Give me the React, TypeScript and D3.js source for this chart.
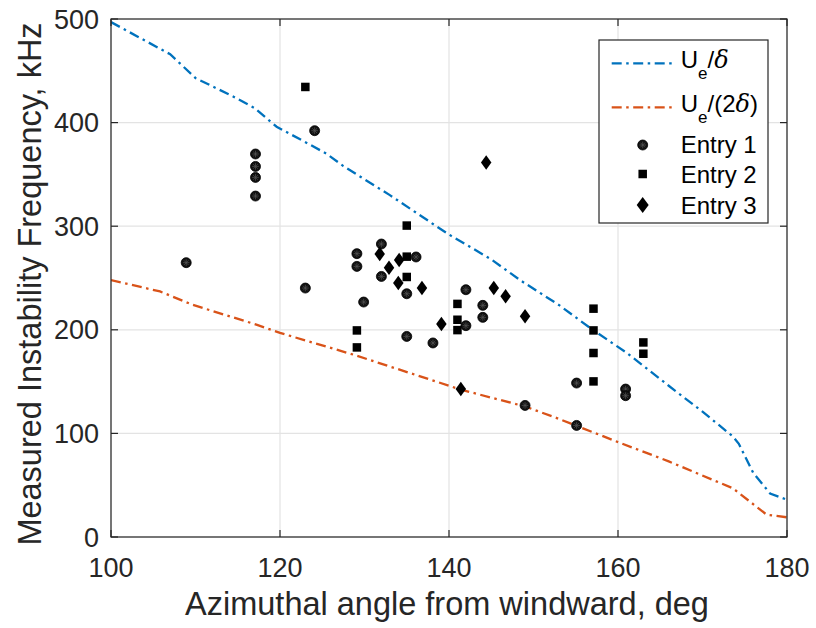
import React from "react";
import * as d3 from "d3";

const blueX = [100, 107, 110, 114.5, 117, 119.6, 122.8, 125.5, 127.5, 133, 138.5, 140, 145, 148.4, 153, 157, 161, 166, 170, 173.6, 174.3, 176, 178, 180];
const blueY = [497, 466, 443, 425, 414, 396, 382, 370, 358, 330, 300, 292, 268, 248, 224, 200, 178, 146, 121, 97, 90, 62, 42, 36];
const orangeX = [100, 105.8, 109.7, 117.2, 120, 128.7, 141.5, 149, 152.7, 160.2, 166, 173.6, 177.6, 180];
const orangeY = [248, 237, 224, 205, 197, 176, 142, 126, 115, 91, 73, 47, 21.5, 19];

const entry1X = [108.9, 117.1, 117.1, 117.1, 117.1, 123.0, 124.1, 129.1, 129.1, 129.9, 132.0, 132.0, 136.1, 135.0, 135.0, 138.1, 142.0, 142.0, 144.0, 144.0, 149.0, 155.1, 155.1, 160.9, 160.9];
const entry1Y = [264.8, 369.7, 357.7, 347.1, 329.1, 240.3, 392.2, 273.5, 261.2, 226.8, 282.8, 251.5, 270.3, 234.8, 193.6, 187.3, 238.7, 204.0, 223.6, 212.0, 127.0, 148.6, 107.7, 142.8, 136.4];
const entry2X = [123.0, 135.0, 135.0, 135.0, 129.1, 129.1, 141.0, 141.0, 141.0, 157.1, 157.1, 157.1, 157.1, 163.0, 163.0];
const entry2Y = [434.4, 300.6, 270.6, 251.0, 199.4, 183.0, 225.0, 209.7, 199.7, 220.4, 199.4, 177.6, 150.2, 187.8, 176.9];
const entry3X = [144.4, 131.8, 132.9, 134.1, 134.0, 136.8, 139.1, 141.4, 145.3, 146.7, 149.0];
const entry3Y = [361.6, 273.2, 260.0, 267.4, 245.2, 240.3, 205.6, 142.8, 240.3, 232.3, 213.0];

const xTicks = [100, 120, 140, 160, 180];
const yTicks = [0, 100, 200, 300, 400, 500];

const W = 816, H = 628;
const L = 111, R = 787, T = 19, B = 537;
const FONT = "'Liberation Sans', Arial, Helvetica, sans-serif";
const BLUE = "#0072BD";
const ORANGE = "#D95319";
const DASH = "10 4.5 2.5 4.5";

function Circle({ cx, cy }: { cx: number; cy: number }) {
  const r = 5;
  const a = 3.3;
  const d = a * 0.707;
  return (
    <g>
      <circle cx={cx} cy={cy} r={r} fill="#111" stroke="#000" strokeWidth={0.8} />
      <g stroke="#555" strokeWidth={0.7}>
        <line x1={cx - a} y1={cy} x2={cx + a} y2={cy} />
        <line x1={cx} y1={cy - a} x2={cx} y2={cy + a} />
        <line x1={cx - d} y1={cy - d} x2={cx + d} y2={cy + d} />
        <line x1={cx - d} y1={cy + d} x2={cx + d} y2={cy - d} />
      </g>
    </g>
  );
}

function Square({ cx, cy }: { cx: number; cy: number }) {
  const s = 8.5;
  return <rect x={cx - s / 2} y={cy - s / 2} width={s} height={s} fill="#000" />;
}

function Diamond({ cx, cy, w = 10.5, h = 14.5 }: { cx: number; cy: number; w?: number; h?: number }) {
  const p = `M${cx},${cy - h / 2}L${cx + w / 2},${cy}L${cx},${cy + h / 2}L${cx - w / 2},${cy}Z`;
  return <path d={p} fill="#000" />;
}

export default function App() {
  const x = d3.scaleLinear().domain([100, 180]).range([L, R]);
  const y = d3.scaleLinear().domain([0, 500]).range([B, T]);
  const line = d3
    .line<[number, number]>()
    .x((d) => x(d[0]))
    .y((d) => y(d[1]));
  const blue = line(blueX.map((v, i) => [v, blueY[i]] as [number, number])) || "";
  const orange = line(orangeX.map((v, i) => [v, orangeY[i]] as [number, number])) || "";

  const lx = 599, ly = 40, lw = 169, lh = 183;
  return (
    <svg width={W} height={H} style={{ position: "fixed", left: 0, top: 0, background: "#fff" }} fontFamily={FONT}>
      <rect x={0} y={0} width={W} height={H} fill="#fff" />
      {/* grid */}
      <g stroke="#e3e3e3" strokeWidth={1.2}>
        {xTicks.map((t) => (
          <line key={"gx" + t} x1={x(t)} x2={x(t)} y1={T} y2={B} />
        ))}
        {yTicks.map((t) => (
          <line key={"gy" + t} x1={L} x2={R} y1={y(t)} y2={y(t)} />
        ))}
      </g>
      <clipPath id="pc">
        <rect x={L} y={T} width={R - L} height={B - T} />
      </clipPath>
      <g clipPath="url(#pc)" fill="none" strokeWidth={2.3}>
        <path d={blue} stroke={BLUE} strokeDasharray={DASH} />
        <path d={orange} stroke={ORANGE} strokeDasharray={DASH} />
      </g>
      {entry1X.map((v, i) => (
        <Circle key={"e1" + i} cx={x(v)} cy={y(entry1Y[i])} />
      ))}
      {entry2X.map((v, i) => (
        <Square key={"e2" + i} cx={x(v)} cy={y(entry2Y[i])} />
      ))}
      {entry3X.map((v, i) => (
        <Diamond key={"e3" + i} cx={x(v)} cy={y(entry3Y[i])} />
      ))}
      {/* axes box */}
      <rect x={L} y={T} width={R - L} height={B - T} fill="none" stroke="#262626" strokeWidth={1.2} />
      <g stroke="#262626" strokeWidth={1.2}>
        {xTicks.map((t) => (
          <g key={"tx" + t}>
            <line x1={x(t)} x2={x(t)} y1={B} y2={B - 7} />
            <line x1={x(t)} x2={x(t)} y1={T} y2={T + 7} />
          </g>
        ))}
        {yTicks.map((t) => (
          <g key={"ty" + t}>
            <line x1={L} x2={L + 7} y1={y(t)} y2={y(t)} />
            <line x1={R} x2={R - 7} y1={y(t)} y2={y(t)} />
          </g>
        ))}
      </g>
      <g fill="#262626" fontSize={27}>
        {xTicks.map((t) => (
          <text key={"lx" + t} x={x(t)} y={577} textAnchor="middle">
            {t}
          </text>
        ))}
        {yTicks.map((t) => (
          <text key={"ly" + t} x={99} y={y(t) + 9.5} textAnchor="end">
            {t}
          </text>
        ))}
      </g>
      <text x={447} y={615} textAnchor="middle" fontSize={32.5} fill="#262626">
        Azimuthal angle from windward, deg
      </text>
      <text
        transform={`translate(41,${(T + B) / 2 + 6}) rotate(-90)`}
        textAnchor="middle"
        fontSize={32.5}
        fill="#262626"
      >
        Measured Instability Frequency, kHz
      </text>
      {/* legend */}
      <rect x={lx} y={ly} width={lw} height={lh} fill="#fff" stroke="#262626" strokeWidth={1.2} />
      <line x1={611.7} x2={673.3} y1={63.3} y2={63.3} stroke={BLUE} strokeWidth={2.3} strokeDasharray={DASH} />
      <line x1={611.7} x2={673.3} y1={107.3} y2={107.3} stroke={ORANGE} strokeWidth={2.3} strokeDasharray={DASH} />
      <g fontSize={24} fill="#000">
        <text x={680.7} y={67.5}>
          U
          <tspan fontSize={17} dy={11}>e</tspan>
          <tspan dy={-11}>/</tspan>
          <tspan fontStyle="italic" fontFamily="'DejaVu Serif', 'Liberation Serif', serif">δ</tspan>
        </text>
        <text x={680.7} y={111.5}>
          U
          <tspan fontSize={17} dy={11}>e</tspan>
          <tspan dy={-11}>/(2</tspan>
          <tspan fontStyle="italic" fontFamily="'DejaVu Serif', 'Liberation Serif', serif">δ</tspan>
          <tspan>)</tspan>
        </text>
        <text x={680.7} y={153.3}>Entry 1</text>
        <text x={680.7} y={183.3}>Entry 2</text>
        <text x={680.7} y={214.3}>Entry 3</text>
      </g>
      <Circle cx={642.7} cy={145} />
      <Square cx={642.7} cy={174} />
      <Diamond cx={642.7} cy={205} w={12} h={16} />
    </svg>
  );
}
